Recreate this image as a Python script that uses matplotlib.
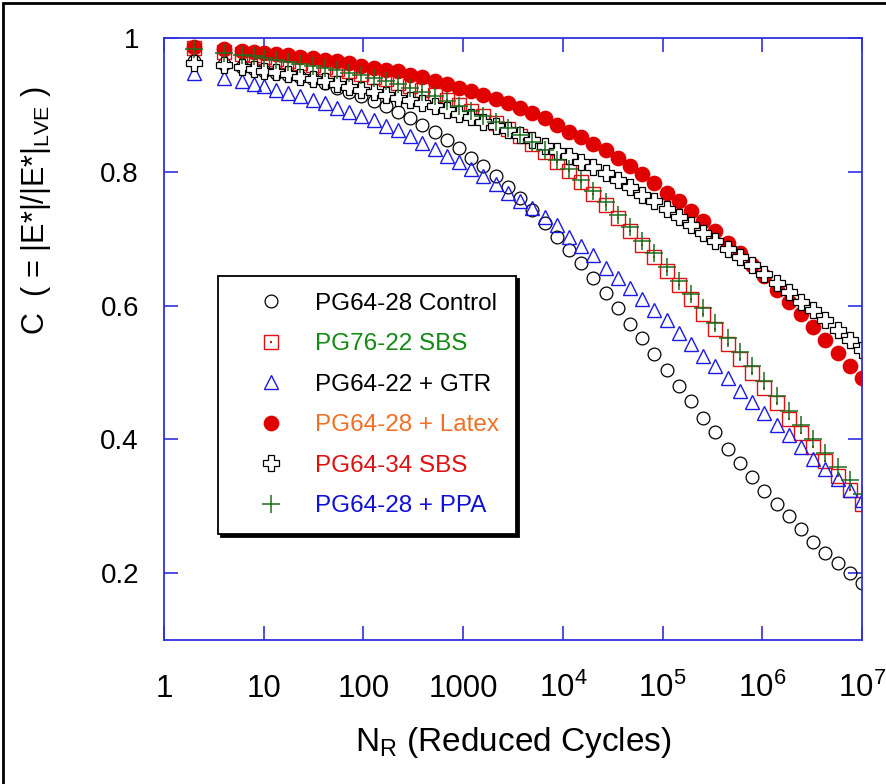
import matplotlib
matplotlib.use('Agg')
import matplotlib.pyplot as plt
from matplotlib import font_manager
from matplotlib.patches import Rectangle

# reduced cycles at which C was sampled
reduced_cycles = [2, 4, 6, 8, 10, 13.26, 17.58, 23.30, 30.89, 40.95, 54.29, 71.97, 95.41,
                  126.5, 167.7, 222.3, 294.7, 390.7, 518.0, 686.7, 910.4, 1207, 1600, 2121,
                  2812, 3728, 4942, 6551, 8685, 11514, 15264, 20236, 26827, 35565, 47149,
                  62506, 82864, 109854, 145635, 193070, 255955, 339323, 449843, 596362,
                  790604, 1048113, 1389495, 1842070, 2442053, 3237458, 4291934, 5689866,
                  7543120, 10000000]

control = [0.966, 0.961, 0.957, 0.954, 0.951, 0.948, 0.945, 0.942, 0.938, 0.933, 0.926,
           0.920, 0.913, 0.906, 0.899, 0.890, 0.880, 0.870, 0.860, 0.848, 0.835, 0.821,
           0.808, 0.794, 0.778, 0.761, 0.743, 0.723, 0.703, 0.683, 0.664, 0.641, 0.619,
           0.597, 0.573, 0.552, 0.527, 0.503, 0.480, 0.457, 0.432, 0.411, 0.386, 0.365,
           0.343, 0.323, 0.303, 0.285, 0.266, 0.247, 0.230, 0.215, 0.200, 0.185]

sbs_76_22 = [0.985, 0.979, 0.976, 0.974, 0.972, 0.969, 0.966, 0.963, 0.960, 0.957, 0.954,
             0.950, 0.946, 0.942, 0.938, 0.933, 0.928, 0.922, 0.915, 0.907, 0.900, 0.891,
             0.883, 0.873, 0.864, 0.854, 0.842, 0.830, 0.815, 0.801, 0.784, 0.767, 0.751,
             0.731, 0.712, 0.691, 0.672, 0.651, 0.630, 0.610, 0.588, 0.565, 0.543, 0.520,
             0.499, 0.476, 0.454, 0.431, 0.410, 0.388, 0.367, 0.345, 0.324, 0.304]

gtr = [0.948, 0.940, 0.935, 0.932, 0.929, 0.923, 0.918, 0.913, 0.908, 0.903, 0.895,
       0.890, 0.884, 0.877, 0.869, 0.862, 0.854, 0.843, 0.834, 0.824, 0.814, 0.804,
       0.793, 0.782, 0.769, 0.757, 0.746, 0.733, 0.720, 0.703, 0.689, 0.675, 0.656,
       0.641, 0.626, 0.610, 0.594, 0.578, 0.559, 0.542, 0.525, 0.509, 0.491, 0.472,
       0.456, 0.439, 0.421, 0.406, 0.388, 0.371, 0.356, 0.340, 0.324, 0.309]

latex = [0.987, 0.983, 0.981, 0.979, 0.977, 0.976, 0.974, 0.971, 0.970, 0.967, 0.965,
         0.962, 0.958, 0.955, 0.952, 0.950, 0.945, 0.941, 0.936, 0.931, 0.926, 0.921,
         0.915, 0.909, 0.903, 0.895, 0.888, 0.880, 0.870, 0.860, 0.852, 0.842, 0.832,
         0.820, 0.808, 0.797, 0.783, 0.769, 0.756, 0.741, 0.727, 0.711, 0.694, 0.679,
         0.661, 0.644, 0.624, 0.605, 0.587, 0.568, 0.548, 0.529, 0.510, 0.491]

sbs_64_34 = [0.963, 0.960, 0.956, 0.953, 0.951, 0.949, 0.946, 0.942, 0.938, 0.935, 0.931,
             0.927, 0.923, 0.919, 0.915, 0.911, 0.907, 0.903, 0.898, 0.893, 0.887, 0.882,
             0.875, 0.869, 0.862, 0.855, 0.847, 0.839, 0.831, 0.823, 0.815, 0.807, 0.798,
             0.788, 0.777, 0.766, 0.756, 0.744, 0.732, 0.721, 0.709, 0.697, 0.685, 0.673,
             0.660, 0.647, 0.634, 0.620, 0.606, 0.593, 0.578, 0.564, 0.549, 0.533]

ppa = [0.984, 0.978, 0.975, 0.973, 0.970, 0.967, 0.964, 0.961, 0.958, 0.955, 0.952,
       0.948, 0.944, 0.940, 0.936, 0.931, 0.926, 0.920, 0.913, 0.906, 0.899, 0.891,
       0.883, 0.874, 0.865, 0.855, 0.844, 0.832, 0.818, 0.804, 0.788, 0.771, 0.755,
       0.736, 0.717, 0.697, 0.678, 0.657, 0.637, 0.617, 0.596, 0.574, 0.552, 0.530,
       0.509, 0.487, 0.465, 0.443, 0.422, 0.400, 0.380, 0.359, 0.339, 0.319]

labels = ['PG64-28 Control', 'PG76-22 SBS', 'PG64-22 + GTR',
          'PG64-28 + Latex', 'PG64-34 SBS', 'PG64-28 + PPA']
label_colors = ['black', '#138a13', 'black', '#f07025', '#e01010', '#1010d8']

x_ticks = [1, 10, 100, 1000, 1e4, 1e5, 1e6, 1e7]
x_tick_labels = ['1', '10', '100', '1000', r'$10^{4}$', r'$10^{5}$', r'$10^{6}$', r'$10^{7}$']
y_ticks = [0.2, 0.4, 0.6, 0.8, 1.0]
y_tick_labels = ['0.2', '0.4', '0.6', '0.8', '1']

# narrow face for the x axis if it is there
try:
    font_manager.findfont('Liberation Sans Narrow', fallback_to_default=False)
    narrow, x_size, xl_size = 'Liberation Sans Narrow', 27, 29
except ValueError:
    narrow, x_size, xl_size = 'Liberation Sans', 22.5, 24

plt.rcParams['font.family'] = 'Liberation Sans'
plt.rcParams['mathtext.default'] = 'regular'

axis_blue = '#3030e0'

fig = plt.figure(figsize=(8.86, 7.84), dpi=100)
ax = fig.add_axes([0.1851, 0.1837, 0.7878, 0.7678])

ax.plot(reduced_cycles, control, ls='none', marker='o', ms=9.2, mfc='none',
        mec='black', mew=0.9)
sq, = ax.plot(reduced_cycles, sbs_76_22, ls='none', marker='s', ms=9.8, mfc='none',
              mec='#dd1111', mew=1.0)
dot, = ax.plot(reduced_cycles, sbs_76_22, ls='none', marker='s', ms=1.5,
               color='#dd1111', mew=0)
ax.plot(reduced_cycles, gtr, ls='none', marker='^', ms=10.5, mfc='none',
        mec='#1a1ae8', mew=1.0)
ax.plot(reduced_cycles, latex, ls='none', marker='o', ms=10.3, color='#e00000',
        mec='#e00000')
ax.plot(reduced_cycles, sbs_64_34, ls='none', marker='P', ms=12, mfc='white',
        mec='black', mew=0.9)
ax.plot(reduced_cycles, ppa, ls='none', marker='+', ms=12.5, color='#1f6e1f', mew=1.1)

ax.set_xscale('log')
ax.set_xlim(1, 1e7)
ax.set_ylim(0.1, 1.0)
ax.set_xticks(x_ticks)
ax.set_xticklabels(x_tick_labels, fontsize=x_size, family=narrow)
ax.minorticks_off()
ax.set_yticks(y_ticks)
ax.set_yticklabels(y_tick_labels, fontsize=20)
ax.tick_params(axis='both', which='both', direction='in', length=10, width=1.2,
               color=axis_blue, top=True, right=True)
ax.tick_params(axis='y', pad=18)
ax.tick_params(axis='x', pad=41)
for t in ax.get_xticklabels():
    t.set_verticalalignment('baseline')
for s in ax.spines.values():
    s.set_color(axis_blue)
    s.set_linewidth(1.3)

ax.set_xlabel(r'N$_{R}$ (Reduced Cycles)', fontsize=xl_size, family=narrow, labelpad=15)
ax.set_ylabel(r'C  ( = |E*|/|E*|$_{LVE}$ )', fontsize=22)
ax.yaxis.set_label_coords(-0.183, 0.714)
ax.yaxis.label.set_verticalalignment('center')

handles = ax.get_lines()
leg_handles = [handles[0], (sq, dot), handles[3], handles[4], handles[5], handles[6]]
leg = ax.legend(leg_handles, labels, loc='upper left', bbox_to_anchor=(0.0774, 0.6047),
                borderaxespad=0, fontsize=17.5, handlelength=3.0, handletextpad=0.3,
                borderpad=0.7, labelspacing=0.76, fancybox=False, framealpha=1,
                edgecolor='black',
                shadow={'facecolor': 'black', 'edgecolor': 'black', 'alpha': 1})
leg.get_frame().set_linewidth(1.3)
for text, c in zip(leg.get_texts(), label_colors):
    text.set_color(c)

# outer border of the picture
fig.patches.append(Rectangle((0.003, -0.05), 1.2, 1.046, transform=fig.transFigure,
                             fill=False, edgecolor='black', linewidth=2))

fig.savefig('out.png', dpi=100)
